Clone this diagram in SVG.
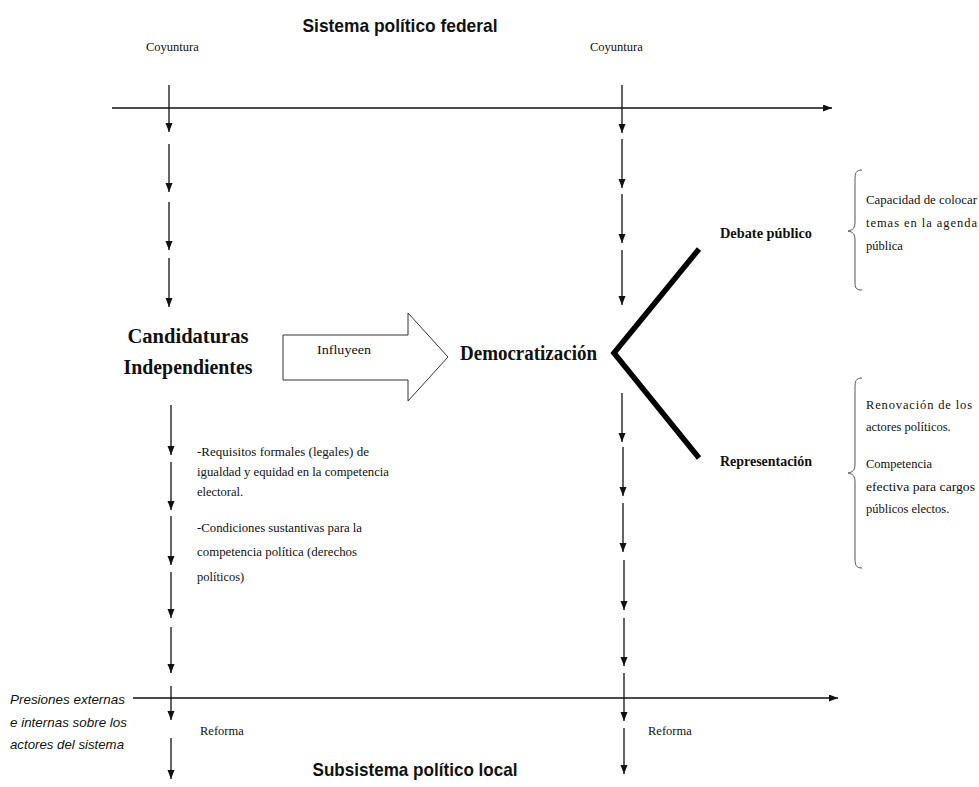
<svg xmlns="http://www.w3.org/2000/svg" width="979" height="787" viewBox="0 0 979 787">
<defs>
<marker id="ah" markerUnits="userSpaceOnUse" markerWidth="10" markerHeight="10" refX="9" refY="3.5" orient="auto">
<path d="M0,0 L9,3.5 L0,7 z" fill="#111"/>
</marker>
<style>
.ser{font-family:"Liberation Serif","Times New Roman",serif;fill:#111}
.sm{font-size:12.5px}
.bd{font-weight:bold}
.sans{font-family:"Liberation Sans Narrow","Liberation Sans",Arial,sans-serif;fill:#111}
.ln{stroke:#111;stroke-width:1.3;fill:none}
.ar{stroke:#111;stroke-width:1.3;fill:none;marker-end:url(#ah)}
.br{stroke:#555;stroke-width:1;fill:none}
.v{stroke:#000;stroke-width:5.5;fill:none;stroke-linecap:butt}
</style>
</defs>
<rect width="979" height="787" fill="#fff"/>

<g id="connectors">
<!-- top axis -->
<line class="ar" x1="112" y1="108" x2="832" y2="108"/>
<!-- bottom axis -->
<line class="ar" x1="133" y1="698" x2="838" y2="698"/>
<!-- left column upper -->
<line class="ar" x1="169" y1="85" x2="169" y2="132"/>
<line class="ar" x1="169" y1="144" x2="169" y2="192"/>
<line class="ar" x1="169" y1="202" x2="169" y2="250"/>
<line class="ar" x1="169" y1="258" x2="169" y2="307"/>
<!-- right column upper -->
<line class="ar" x1="622" y1="85" x2="622" y2="133"/>
<line class="ar" x1="622" y1="139" x2="622" y2="188"/>
<line class="ar" x1="622" y1="194" x2="622" y2="243"/>
<line class="ar" x1="622" y1="250" x2="622" y2="305"/>
<!-- left column lower -->
<line class="ar" x1="171" y1="405" x2="171" y2="455"/>
<line class="ar" x1="171" y1="462" x2="171" y2="510"/>
<line class="ar" x1="171" y1="516" x2="171" y2="565"/>
<line class="ar" x1="171" y1="572" x2="171" y2="618"/>
<line class="ar" x1="171" y1="627" x2="171" y2="673"/>
<line class="ar" x1="171" y1="686" x2="171" y2="720"/>
<line class="ar" x1="171" y1="738" x2="171" y2="779"/>
<!-- right column lower -->
<line class="ar" x1="622" y1="393" x2="622" y2="442"/>
<line class="ar" x1="623" y1="447" x2="623" y2="496"/>
<line class="ar" x1="623" y1="503" x2="623" y2="552"/>
<line class="ar" x1="624" y1="560" x2="624" y2="610"/>
<line class="ar" x1="624" y1="618" x2="624" y2="666"/>
<line class="ar" x1="624" y1="673" x2="624" y2="721"/>
<line class="ar" x1="624" y1="728" x2="624" y2="774"/>
<!-- V shape -->
<polyline class="v" points="699,249 614,353 699,458"/>
<!-- braces -->
<path class="br" d="M862,170 C856,170 855,173 855,180 L855,222 C855,228 853,230 848,231 C853,232 855,234 855,240 L855,282 C855,288 856,290 862,290"/>
<path class="br" d="M862,378 C856,378 855,381 855,388 L855,464 C855,470 853,472 848,473 C853,474 855,476 855,482 L855,558 C855,565 856,568 862,568"/>
</g>

<g id="title-top">
<text class="sans bd" x="400" y="32" font-size="19" text-anchor="middle" textLength="195" lengthAdjust="spacingAndGlyphs">Sistema político federal</text>
</g>
<g id="coyuntura-left"><text class="ser sm" x="146" y="51">Coyuntura</text></g>
<g id="coyuntura-right"><text class="ser sm" x="590" y="51">Coyuntura</text></g>

<g id="candidaturas">
<text class="ser bd" x="188" y="343" font-size="20" text-anchor="middle" textLength="121" lengthAdjust="spacingAndGlyphs">Candidaturas</text>
<text class="ser bd" x="188" y="374" font-size="20" text-anchor="middle" textLength="129" lengthAdjust="spacingAndGlyphs">Independientes</text>
</g>

<g id="influyen-arrow">
<path d="M283,335 L408,335 L408,313 L448,357 L408,401 L408,380 L283,380 Z" fill="#fff" stroke="#333" stroke-width="1"/>
<text class="ser" x="317" y="354" font-size="12" textLength="54" lengthAdjust="spacingAndGlyphs">Influyeen</text>
</g>

<g id="democratizacion">
<text class="ser bd" x="460" y="360" font-size="20" textLength="137" lengthAdjust="spacingAndGlyphs">Democratización</text>
</g>

<g id="debate">
<text class="ser bd" x="720" y="238" font-size="14" textLength="92" lengthAdjust="spacingAndGlyphs">Debate público</text>
</g>
<g id="representacion">
<text class="ser bd" x="720" y="466" font-size="14" textLength="92" lengthAdjust="spacingAndGlyphs">Representación</text>
</g>

<g id="debate-desc">
<text class="ser sm" x="866" y="204" textLength="111" lengthAdjust="spacingAndGlyphs">Capacidad de colocar</text>
<text class="ser sm" x="866" y="227" textLength="111" lengthAdjust="spacing">temas  en  la  agenda</text>
<text class="ser sm" x="866" y="250">pública</text>
</g>

<g id="representacion-desc">
<text class="ser sm" x="866" y="409" textLength="106" lengthAdjust="spacing">Renovación  de  los</text>
<text class="ser sm" x="866" y="431">actores políticos.</text>
<text class="ser sm" x="866" y="468">Competencia</text>
<text class="ser sm" x="866" y="491" textLength="109" lengthAdjust="spacingAndGlyphs">efectiva para cargos</text>
<text class="ser sm" x="866" y="513">públicos electos.</text>
</g>

<g id="requisitos">
<text class="ser sm" x="197" y="456" textLength="172" lengthAdjust="spacingAndGlyphs">-Requisitos formales (legales) de</text>
<text class="ser sm" x="197" y="476" textLength="192" lengthAdjust="spacingAndGlyphs">igualdad y equidad en la competencia</text>
<text class="ser sm" x="197" y="496">electoral.</text>
<text class="ser sm" x="197" y="532" textLength="165" lengthAdjust="spacingAndGlyphs">-Condiciones sustantivas para la</text>
<text class="ser sm" x="197" y="556" textLength="160" lengthAdjust="spacingAndGlyphs">competencia política (derechos</text>
<text class="ser sm" x="197" y="581">políticos)</text>
</g>

<g id="presiones">
<text class="sans" x="10" y="704" font-size="13" font-style="italic" textLength="115" lengthAdjust="spacingAndGlyphs">Presiones externas</text>
<text class="sans" x="10" y="727" font-size="13" font-style="italic" textLength="117" lengthAdjust="spacingAndGlyphs">e internas sobre los</text>
<text class="sans" x="10" y="749" font-size="13" font-style="italic" textLength="114" lengthAdjust="spacingAndGlyphs">actores del sistema</text>
</g>

<g id="reforma-left"><text class="ser sm" x="200" y="735">Reforma</text></g>
<g id="reforma-right"><text class="ser sm" x="648" y="735">Reforma</text></g>

<g id="title-bottom">
<text class="sans bd" x="415" y="776" font-size="19" text-anchor="middle" textLength="205" lengthAdjust="spacingAndGlyphs">Subsistema político local</text>
</g>
</svg>
